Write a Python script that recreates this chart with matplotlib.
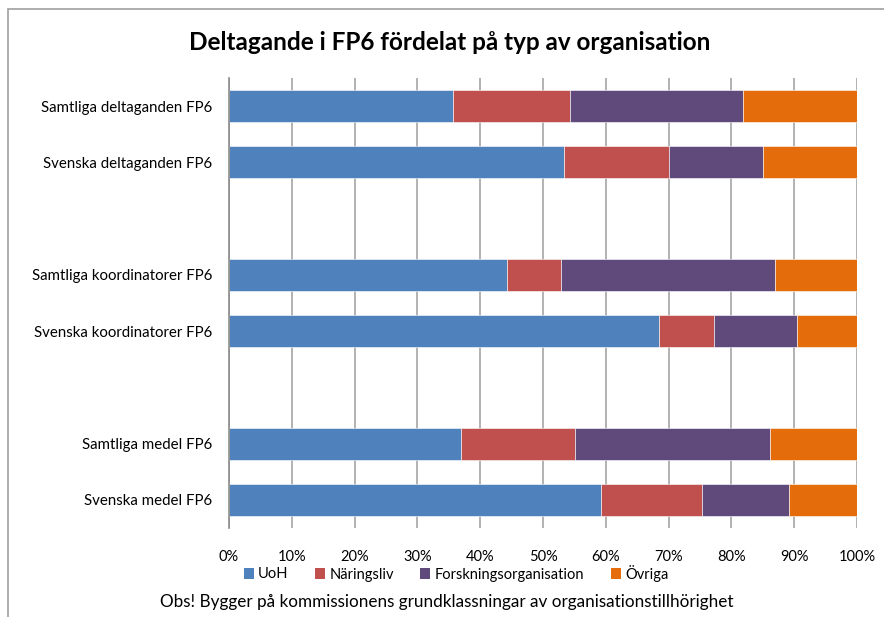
import matplotlib
matplotlib.use("Agg")
import matplotlib.pyplot as plt
from matplotlib.patches import Rectangle, Patch
import numpy as np

categories = ["Samtliga deltaganden FP6", "Svenska deltaganden FP6", "",
              "Samtliga koordinatorer FP6", "Svenska koordinatorer FP6", "",
              "Samtliga medel FP6", "Svenska medel FP6"]
series_names = ["UoH", "Näringsliv", "Forskningsorganisation", "Övriga"]
uoh = [35.6, 53.3, 0, 44.3, 68.5, 0, 36.9, 59.3]
naring = [18.7, 16.8, 0, 8.6, 8.8, 0, 18.2, 16.0]
forsk = [27.5, 14.9, 0, 34.1, 13.2, 0, 31.1, 13.9]
ovriga = [18.2, 15.0, 0, 13.0, 9.5, 0, 13.8, 10.8]
ticks = [0, 10, 20, 30, 40, 50, 60, 70, 80, 90, 100]
tick_labels = [f"{t}%" for t in ticks]
title = "Deltagande i FP6 fördelat på typ av organisation"
note = "Obs! Bygger på kommissionens grundklassningar av organisationstillhörighet"

colors = ["#4F81BD", "#C0504D", "#604A7B", "#E46C0A"]

plt.rcParams['font.family'] = ['Lato', 'DejaVu Sans']

W, H = 884, 617
fig = plt.figure(figsize=(W/100, H/100), dpi=100)
ax = fig.add_axes([229/W, 1-528/H, (857-229)/W, (528-78)/H])

y = np.arange(len(categories))
left = np.zeros(len(categories))
for vals, c, name in zip([uoh, naring, forsk, ovriga], colors, series_names):
    v = np.array(vals, dtype=float)
    m = v > 0
    ax.barh(y[m], v[m], left=left[m], height=0.57, color=c, edgecolor='white',
            linewidth=0.4, label=name, zorder=3)
    left += v

ax.set_xlim(0, 100)
ax.set_ylim(len(categories)-0.5, -0.5)
ax.set_yticks(y)
ax.set_yticklabels(categories, fontsize=10.8, color='black')
ax.set_xticks(ticks)
ax.set_xticklabels(tick_labels, fontsize=10.5)
ax.tick_params(axis='y', length=0, pad=12)
ax.tick_params(axis='x', length=0, pad=16)
ax.grid(axis='x', color='#A6A6A6', linewidth=1.2, zorder=0)
for s in ['top', 'right', 'bottom']:
    ax.spines[s].set_visible(False)
ax.spines['left'].set_color('#8C8C8C')
ax.spines['left'].set_linewidth(1.2)
ax.spines['left'].set_zorder(4)

fig.text(450/W, 1-42/H, title, ha='center', va='center', fontsize=17.5, fontweight='bold')

handles = [Patch(facecolor=c, edgecolor='none') for c in colors]
fig.legend(handles, series_names, loc='center', bbox_to_anchor=(456/W, 1-573/H),
           ncol=4, frameon=False, fontsize=10.5, handlelength=0.7, handleheight=0.7,
           handletextpad=0.3, columnspacing=1.8)

fig.text(447/W, 1-602/H, note, ha='center', va='center', fontsize=12.3)

fig.patches.append(Rectangle((8/W, -0.1), 1.2, 1.1 - 9/H, transform=fig.transFigure,
                             fill=False, edgecolor='#A0A0A0', linewidth=1.2))

fig.savefig("out.png", dpi=100)
